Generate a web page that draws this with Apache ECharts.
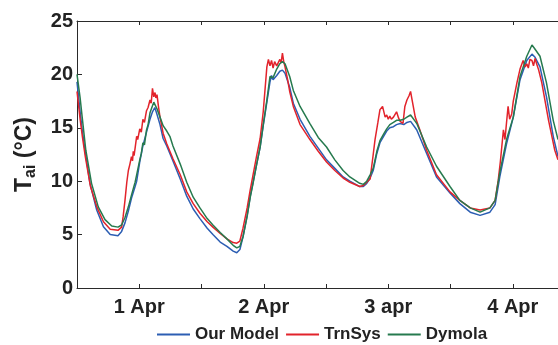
<!DOCTYPE html>
<html>
<head>
<meta charset="utf-8">
<script src="https://cdn.jsdelivr.net/npm/echarts@6/dist/echarts.min.js"></script>
<style>
  html, body { margin: 0; padding: 0; background: #fff; }
  #chart { width: 558px; height: 345px; }
</style>
</head>
<body>
<div id="chart"></div>
<script>
// Indoor air temperature, hours counted from 31 Mar 12:00
const dayTicks = { 12: '1 Apr', 36: '2 Apr', 60: '3 apr', 84: '4 Apr' };
const seriesNames = ['Our Model', 'TrnSys', 'Dymola'];

const modelHours = [0, 0.6, 1.0, 1.54, 2.5, 3.8, 5.1, 6.4, 7.9, 8.6, 9.25, 9.9, 10.5, 11.2, 11.5, 12.1, 12.7, 13.4, 14.07, 14.55, 15.0, 15.4, 16.0, 16.6, 17.3, 17.9, 18.5, 19.9, 21.15, 22.4, 23.7, 25.1, 26.2, 27.6, 28.9, 30.1, 30.8, 31.4, 32.0, 32.8, 33.4, 33.9, 34.6, 35.3, 35.9, 36.6, 37.2, 37.5, 37.8, 38.5, 39.1, 39.6, 40.1, 41.0, 41.7, 43.0, 44.9, 46.5, 48.1, 49.7, 51.3, 52.6, 54.5, 55.2, 55.85, 56.5, 57.1, 57.8, 58.4, 59.1, 59.7, 60.3, 61.0, 61.6, 62.3, 63.0, 63.6, 64.3, 65.2, 65.5, 67.4, 69.3, 71.9, 73.8, 75.8, 77.7, 79.6, 80.6, 81.5, 82.8, 84.1, 85.4, 86.7, 87.7, 88.3, 89.25, 90.5, 91.8, 92.72];
const modelTemps = [19.3, 16.5, 14.8, 12.9, 9.8, 7.3, 5.74, 5.0, 4.9, 5.3, 6.1, 7.2, 8.4, 9.5, 10.0, 11.8, 13.3, 14.6, 15.8, 16.5, 16.9, 16.3, 15.3, 14.0, 13.3, 12.6, 11.9, 10.2, 8.6, 7.4, 6.5, 5.6, 5.0, 4.3, 3.9, 3.45, 3.3, 3.6, 4.8, 6.8, 8.6, 9.8, 11.5, 13.2, 15.2, 17.4, 19.3, 19.9, 19.5, 19.9, 20.3, 20.4, 20.1, 18.8, 17.3, 15.8, 14.2, 13.1, 12.0, 11.2, 10.4, 10.0, 9.5, 9.5, 9.8, 10.3, 11.0, 12.6, 13.6, 14.2, 14.7, 15.0, 15.1, 15.3, 15.4, 15.3, 15.5, 15.6, 15.0, 14.8, 12.6, 10.4, 8.9, 7.9, 7.1, 6.8, 7.1, 7.8, 10.4, 13.5, 16.0, 19.5, 21.3, 21.9, 21.6, 20.7, 17.9, 14.2, 12.3];

const trnsysHours = [0, 0.6, 1.0, 1.6, 2.6, 3.9, 5.1, 6.4, 7.9, 8.6, 8.9, 9.25, 9.6, 9.9, 10.2, 10.5, 10.7, 10.85, 11.0, 11.2, 11.5, 11.7, 12.1, 12.4, 12.7, 13.0, 13.4, 13.7, 14.07, 14.3, 14.55, 14.8, 15.04, 15.2, 15.42, 15.7, 16.0, 16.6, 17.3, 18.5, 19.9, 21.15, 22.4, 23.7, 25.1, 26.2, 27.6, 28.9, 30.1, 30.8, 31.4, 32.0, 32.8, 33.4, 33.9, 34.6, 35.3, 35.9, 36.6, 36.9, 37.2, 37.5, 37.8, 38.1, 38.5, 38.8, 39.1, 39.35, 39.6, 39.85, 40.1, 40.6, 41.0, 41.7, 43.0, 44.9, 46.5, 48.1, 49.7, 51.3, 52.6, 54.5, 55.2, 55.85, 56.5, 57.1, 57.45, 58.0, 58.4, 58.9, 59.2, 59.4, 59.7, 60.0, 60.3, 60.6, 61.0, 61.3, 61.6, 62.0, 62.3, 62.6, 62.84, 63.2, 63.6, 64.0, 64.3, 64.6, 65.2, 66.1, 67.4, 69.3, 71.9, 73.8, 75.8, 77.7, 79.6, 80.6, 81.2, 81.6, 82.2, 82.5, 82.8, 83.1, 83.4, 83.8, 84.1, 84.8, 85.4, 86.0, 86.4, 86.7, 87.0, 87.3, 87.7, 88.0, 88.3, 88.6, 89.0, 89.6, 90.9, 92.1, 92.72];
const trnsysTemps = [18.4, 15.8, 14.3, 12.3, 9.5, 7.5, 6.2, 5.5, 5.4, 5.7, 6.7, 8.2, 9.9, 11.0, 11.6, 12.3, 11.9, 12.8, 12.4, 13.1, 14.2, 13.9, 14.9, 14.6, 15.8, 15.5, 16.6, 16.9, 17.6, 17.3, 18.7, 17.9, 18.3, 17.8, 18.1, 17.0, 16.0, 14.5, 13.5, 12.1, 10.6, 9.0, 7.9, 7.0, 6.2, 5.7, 5.1, 4.6, 4.25, 4.2, 4.4, 5.6, 7.5, 9.2, 10.5, 12.3, 14.0, 16.5, 20.7, 21.4, 20.8, 21.3, 20.6, 21.2, 20.8, 21.1, 21.4, 21.1, 22.0, 21.2, 20.7, 19.5, 18.4, 17.0, 15.3, 13.9, 12.8, 11.8, 11.0, 10.3, 9.9, 9.5, 9.6, 9.9, 10.2, 12.5, 13.9, 15.5, 16.7, 17.0, 16.4, 16.0, 16.2, 15.8, 16.1, 15.8, 16.0, 16.1, 16.5, 15.9, 15.6, 15.5, 15.4, 17.0, 17.6, 18.0, 18.4, 17.6, 16.0, 14.8, 12.9, 10.6, 9.0, 8.2, 7.5, 7.3, 7.5, 8.2, 10.1, 11.8, 14.8, 13.9, 15.5, 17.0, 15.8, 16.3, 17.5, 19.2, 20.5, 21.3, 20.7, 21.0, 20.6, 21.4, 21.3, 20.8, 21.5, 21.0, 20.4, 19.2, 15.7, 12.9, 12.0];

const dymolaHours = [0, 0.6, 1.0, 1.7, 2.8, 4.1, 5.4, 6.7, 7.9, 8.6, 9.25, 9.9, 10.5, 11.2, 11.5, 12.1, 12.4, 12.7, 13.0, 13.4, 13.7, 14.07, 14.5, 14.8, 15.1, 15.4, 16.0, 16.6, 17.3, 17.9, 18.5, 19.9, 21.15, 22.4, 23.7, 25.1, 26.2, 27.6, 28.9, 30.1, 30.8, 31.4, 32.0, 32.8, 33.4, 33.9, 34.6, 35.3, 35.9, 36.6, 37.2, 37.8, 38.5, 39.1, 39.6, 40.1, 41.0, 41.7, 43.0, 44.9, 46.5, 48.1, 49.7, 51.3, 52.6, 54.5, 55.2, 55.85, 56.5, 57.1, 57.8, 58.4, 59.1, 59.7, 60.3, 61.0, 61.6, 62.3, 63.0, 63.6, 64.3, 65.2, 65.5, 67.4, 69.3, 71.9, 73.8, 75.8, 77.7, 79.6, 80.6, 81.5, 82.8, 84.1, 85.4, 86.7, 87.7, 88.1, 89.25, 90.5, 91.8, 92.72];
const dymolaTemps = [20.0, 17.8, 16.0, 12.9, 9.8, 7.6, 6.4, 5.8, 5.7, 5.9, 6.6, 7.6, 8.7, 9.9, 10.6, 12.0, 12.6, 13.6, 13.4, 14.8, 15.3, 16.4, 17.0, 17.4, 17.1, 16.8, 16.0, 15.2, 14.7, 14.2, 13.3, 11.6, 9.9, 8.5, 7.5, 6.5, 5.9, 5.2, 4.6, 4.0, 3.75, 3.9, 4.8, 6.7, 8.5, 9.7, 11.5, 13.2, 15.3, 17.6, 19.8, 19.7, 20.5, 21.0, 21.2, 21.0, 19.8, 18.5, 17.0, 15.4, 14.1, 13.2, 12.0, 11.0, 10.4, 9.8, 9.7, 10.0, 10.6, 11.2, 12.8, 13.8, 14.4, 14.9, 15.3, 15.5, 15.7, 15.7, 15.8, 16.0, 16.2, 15.6, 15.4, 13.2, 11.4, 9.5, 8.2, 7.5, 7.1, 7.5, 8.2, 10.8, 13.9, 16.0, 19.8, 21.7, 22.75, 22.5, 21.7, 19.2, 15.7, 13.9];

const colors = ['#2c5eb3', '#e2232b', '#267a4e'];
const pairs = (xs, ys) => xs.map((x, i) => [x, ys[i]]);

const textFont = '"Liberation Sans", Arial, sans-serif';
const axisColor = '#2a2a2a';

const xBase = {
  type: 'value', min: 0, max: 92.72, interval: 12,
  axisLine: { show: true, lineStyle: { color: axisColor, width: 1 } },
  axisTick: { show: true, inside: true, length: 4, lineStyle: { color: axisColor } },
  splitLine: { show: false }
};

const chart = echarts.init(document.getElementById('chart'), null, { renderer: 'canvas' });
chart.setOption({
  animation: false,
  backgroundColor: '#fff',
  grid: { left: 77, right: 0, top: 21, bottom: 57, containLabel: false },
  legend: {
    data: seriesNames.map(name => ({ name, icon: 'rect' })),
    left: 152, top: 321,
    itemWidth: 33, itemHeight: 2, itemGap: 7,
    textStyle: { fontFamily: textFont, fontWeight: 'bold', fontSize: 17, color: '#222' }
  },
  xAxis: [
    Object.assign({}, xBase, {
      position: 'bottom',
      axisLabel: {
        show: true, margin: 9, fontFamily: textFont, fontWeight: 'bold', fontSize: 20, color: '#222',
        showMinLabel: false, showMaxLabel: false,
        formatter: v => dayTicks[Math.round(v)] || ''
      }
    }),
    Object.assign({}, xBase, { position: 'top', axisLabel: { show: false } })
  ],
  yAxis: {
    type: 'value', min: 0, max: 25, interval: 5,
    axisLine: { show: true, lineStyle: { color: axisColor, width: 1 } },
    axisTick: { show: true, inside: true, length: 5, lineStyle: { color: axisColor } },
    splitLine: { show: false },
    axisLabel: { margin: 4, fontFamily: textFont, fontWeight: 'bold', fontSize: 20, color: '#222' },
    name: '{t|T}{s|ai}{t| (°C)}',
    nameLocation: 'middle', nameGap: 38,
    nameTextStyle: {
      color: '#222',
      rich: {
        t: { fontFamily: textFont, fontWeight: 'bold', fontSize: 23, color: '#222' },
        s: { fontFamily: textFont, fontWeight: 'bold', fontSize: 16, color: '#222', padding: [12, 0, 0, 0] }
      }
    }
  },
  series: seriesNames.map((name, i) => ({
    name, type: 'line', xAxisIndex: 0, symbol: 'none', smooth: false,
    data: pairs([modelHours, trnsysHours, dymolaHours][i], [modelTemps, trnsysTemps, dymolaTemps][i]),
    lineStyle: { color: colors[i], width: 1.5 },
    itemStyle: { color: colors[i] }
  }))
});
</script>
</body>
</html>
